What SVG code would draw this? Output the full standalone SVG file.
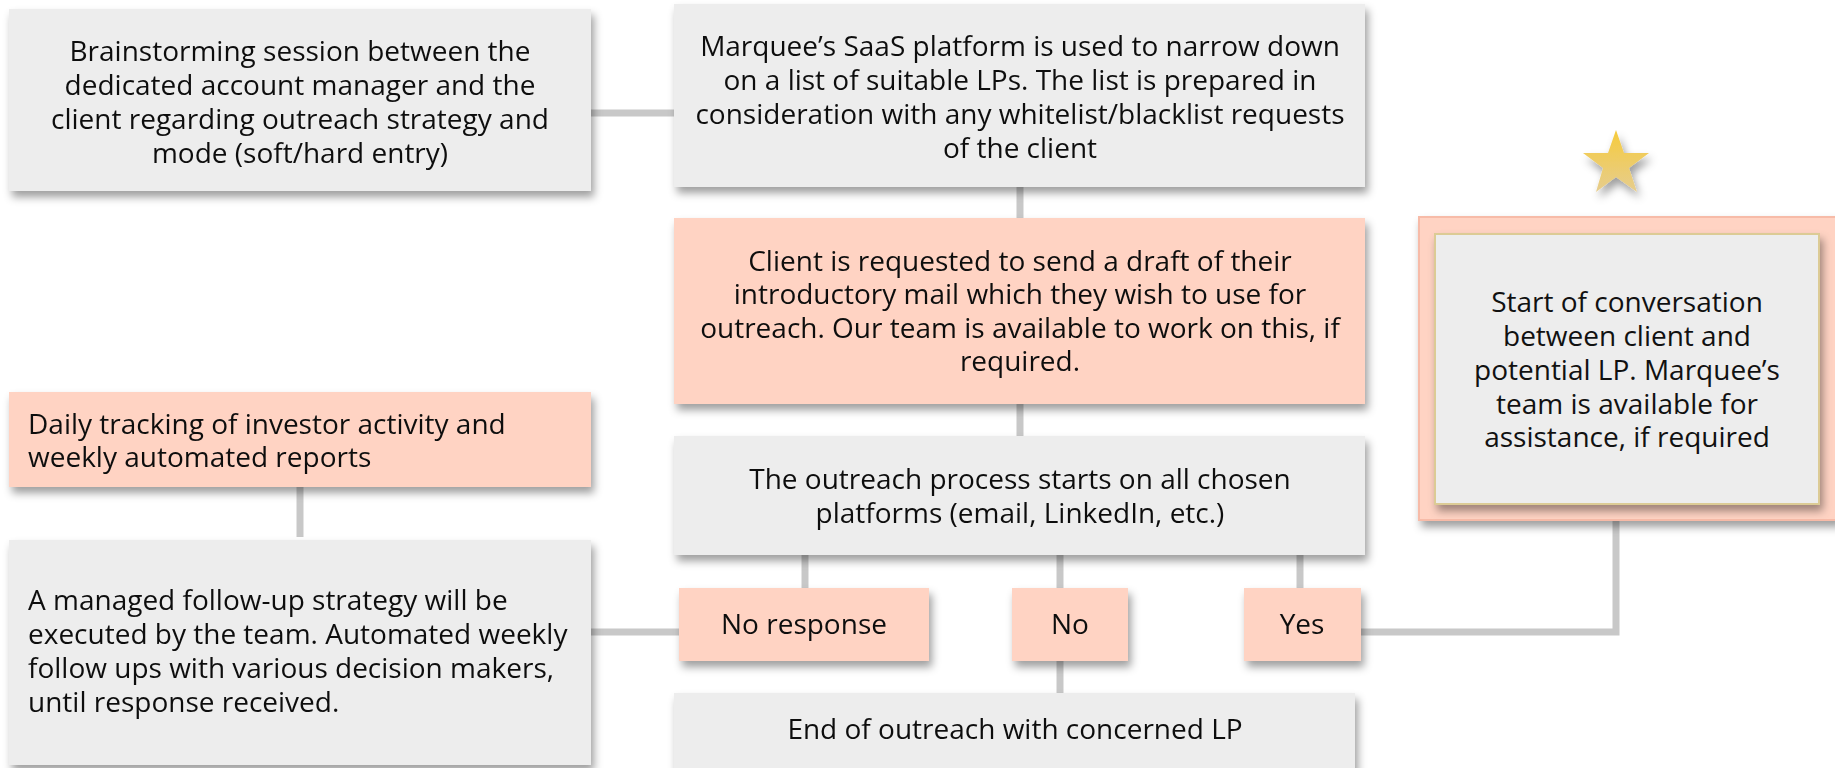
<svg xmlns="http://www.w3.org/2000/svg" width="1835" height="768" viewBox="0 0 1835 768">
<defs>
<filter id="sh" x="-10%" y="-20%" width="125%" height="150%">
<feDropShadow dx="3" dy="6" stdDeviation="4" flood-color="#000" flood-opacity="0.38"/>
</filter>
<linearGradient id="gold" x1="0" y1="0" x2="0" y2="1">
<stop offset="0" stop-color="#f6cb3c"/>
<stop offset="1" stop-color="#e6cd8e"/>
</linearGradient>
<style>
.g{fill:#ededed}
.s{fill:#ffd3c3}
.t{font-family:"Open Sans","Noto Sans",sans-serif;font-size:28px;fill:#111;text-anchor:middle}
.l{text-anchor:start}
.c{stroke:#c8c8c8;stroke-width:7;fill:none}
</style>
</defs>
<rect width="1835" height="768" fill="#fff"/>
<g id="connectors">
<line class="c" x1="585" y1="113" x2="680" y2="113"/>
<line class="c" x1="1020" y1="180" x2="1020" y2="225"/>
<line class="c" x1="1020" y1="398" x2="1020" y2="442"/>
<line class="c" x1="805" y1="550" x2="805" y2="592"/>
<line class="c" x1="1060" y1="550" x2="1060" y2="592"/>
<line class="c" x1="1300" y1="550" x2="1300" y2="592"/>
<line class="c" x1="1060" y1="655" x2="1060" y2="698"/>
<line class="c" x1="300" y1="482" x2="300" y2="537"/>
<line class="c" x1="585" y1="632" x2="685" y2="632"/>
<polyline class="c" points="1355,632 1616,632 1616,512"/>
</g>
<g id="brainstorm" filter="url(#sh)">
<rect class="g" x="9" y="9" width="582" height="182"/>
<text class="t"><tspan x="300" y="61">Brainstorming session between the</tspan><tspan x="300" y="95">dedicated account manager and the</tspan><tspan x="300" y="129">client regarding outreach strategy and</tspan><tspan x="300" y="163">mode (soft/hard entry)</tspan></text>
</g>
<g id="saas" filter="url(#sh)">
<rect class="g" x="674" y="4" width="691" height="183"/>
<text class="t"><tspan x="1020" y="56">Marquee’s SaaS platform is used to narrow down</tspan><tspan x="1020" y="90">on a list of suitable LPs. The list is prepared in</tspan><tspan x="1020" y="124">consideration with any whitelist/blacklist requests</tspan><tspan x="1020" y="158">of the client</tspan></text>
</g>
<g id="draft" filter="url(#sh)">
<rect class="s" x="674" y="218" width="691" height="186"/>
<text class="t"><tspan x="1020" y="271">Client is requested to send a draft of their</tspan><tspan x="1020" y="304">introductory mail which they wish to use for</tspan><tspan x="1020" y="338">outreach. Our team is available to work on this, if</tspan><tspan x="1020" y="371">required.</tspan></text>
</g>
<g id="outreach" filter="url(#sh)">
<rect class="g" x="674" y="436" width="691" height="119"/>
<text class="t"><tspan x="1020" y="489">The outreach process starts on all chosen</tspan><tspan x="1020" y="523">platforms (email, LinkedIn, etc.)</tspan></text>
</g>
<g id="noresponse" filter="url(#sh)">
<rect class="s" x="679" y="588" width="250" height="73"/>
<text class="t" x="804" y="634">No response</text>
</g>
<g id="no" filter="url(#sh)">
<rect class="s" x="1012" y="588" width="116" height="73"/>
<text class="t" x="1070" y="634">No</text>
</g>
<g id="yes" filter="url(#sh)">
<rect class="s" x="1244" y="588" width="117" height="73"/>
<text class="t" x="1302" y="634">Yes</text>
</g>
<g id="end" filter="url(#sh)">
<rect class="g" x="674" y="693" width="681" height="80"/>
<text class="t" x="1015" y="739">End of outreach with concerned LP</text>
</g>
<g id="daily" filter="url(#sh)">
<rect class="s" x="9" y="392" width="582" height="95"/>
<text class="t l"><tspan x="28" y="434">Daily tracking of investor activity and</tspan><tspan x="28" y="467">weekly automated reports</tspan></text>
</g>
<g id="followup" filter="url(#sh)">
<rect class="g" x="9" y="540" width="582" height="225"/>
<text class="t l"><tspan x="28" y="610">A managed follow-up strategy will be</tspan><tspan x="28" y="644">executed by the team. Automated weekly</tspan><tspan x="28" y="678">follow ups with various decision makers,</tspan><tspan x="28" y="712">until response received.</tspan></text>
</g>
<g id="start">
<rect x="1419" y="217" width="420" height="303" fill="#ffd3c3" stroke="#f7bba8" stroke-width="2" filter="url(#sh)"/>
<rect x="1435" y="234" width="384" height="270" fill="#ededed" stroke="#dccb95" stroke-width="2" filter="url(#sh)"/>
<text class="t" font-size="27"><tspan x="1627" y="312">Start of conversation</tspan><tspan x="1627" y="346">between client and</tspan><tspan x="1627" y="380">potential LP. Marquee’s</tspan><tspan x="1627" y="414">team is available for</tspan><tspan x="1627" y="447">assistance, if required</tspan></text>
</g>
<g id="star" filter="url(#sh)">
<polygon points="1616,130 1624,153 1649,153 1629,168 1637,192 1616,177 1596,192 1603,168 1583,153 1608,153" fill="url(#gold)"/>
</g>
</svg>
